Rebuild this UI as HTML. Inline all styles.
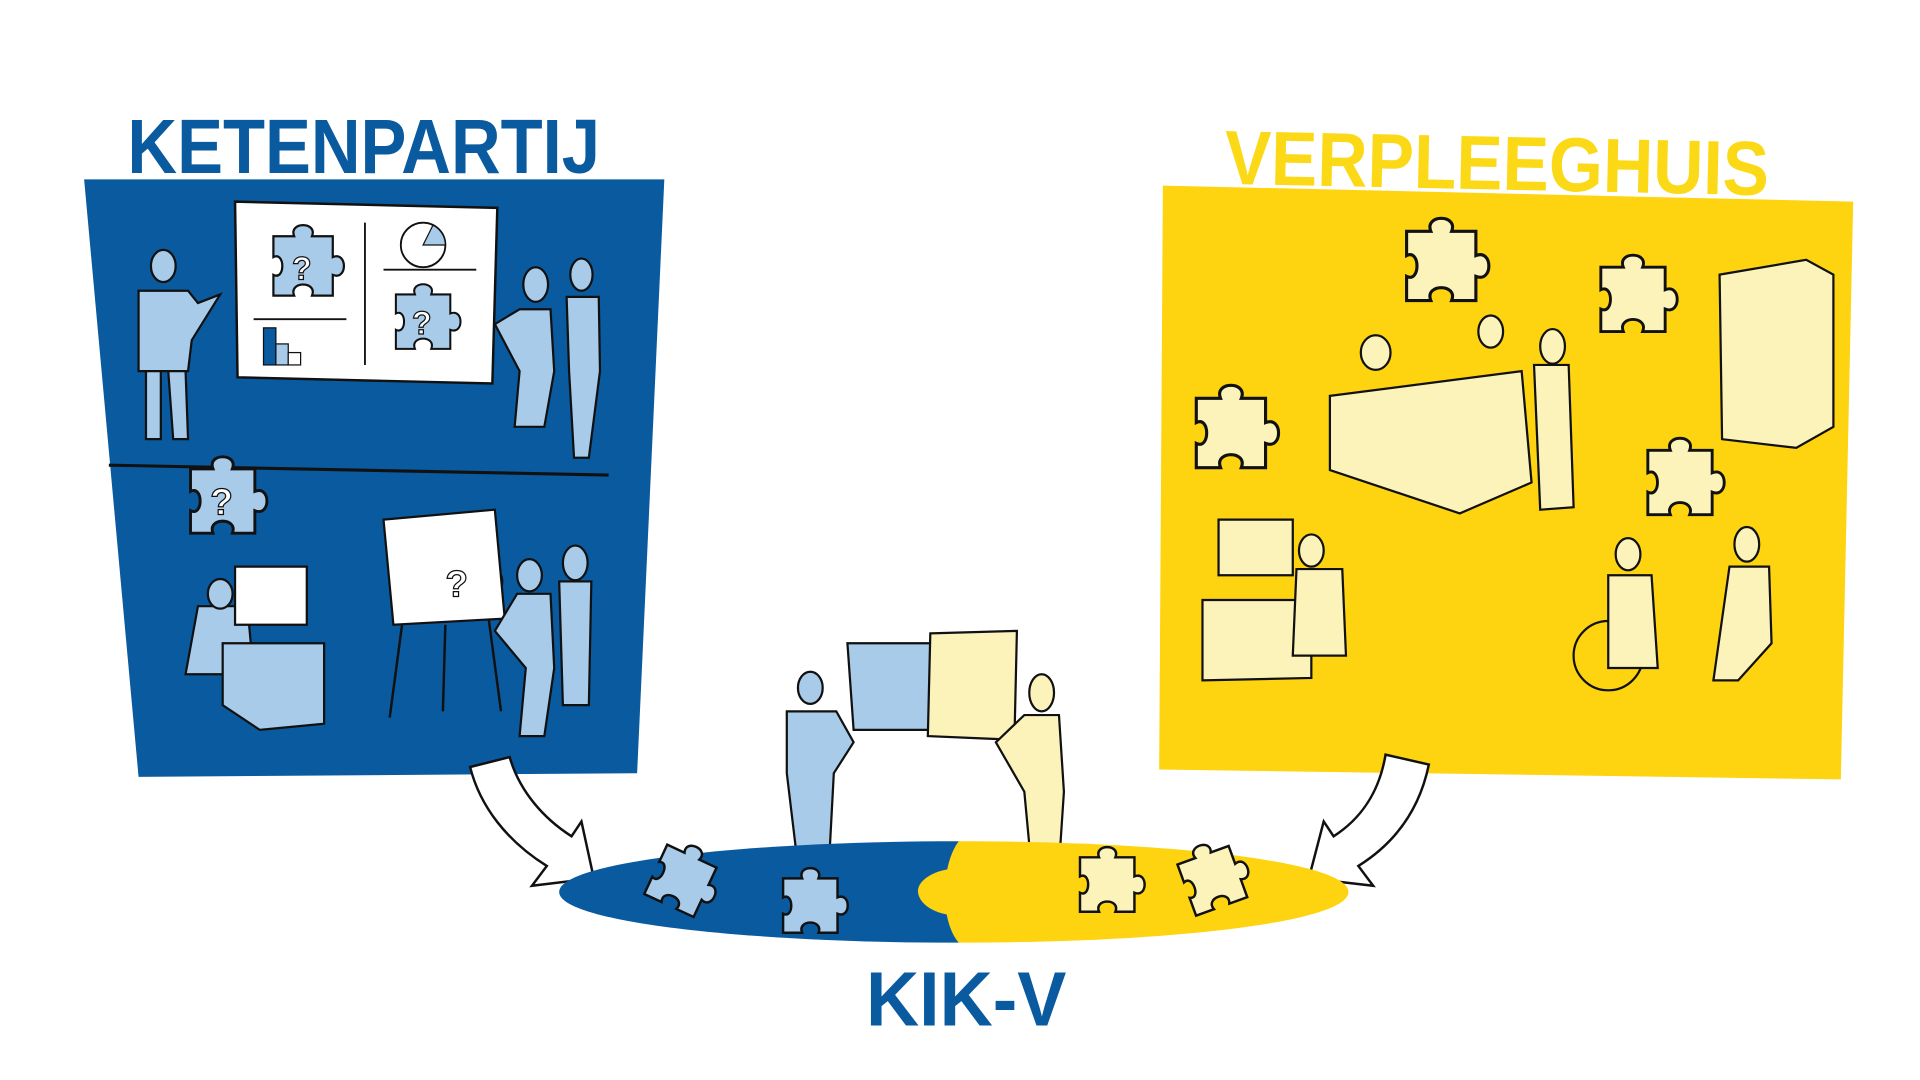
<!DOCTYPE html>
<html><head><meta charset="utf-8"><style>
html,body{margin:0;padding:0;background:#fff;width:1920px;height:1080px;overflow:hidden}
svg{display:block}
text{font-family:"Liberation Sans",sans-serif;font-weight:bold}
</style></head><body>
<svg width="1920" height="1080" viewBox="0 0 1552 873" preserveAspectRatio="none" xmlns="http://www.w3.org/2000/svg">
<defs>
<path id="pz" d="M-20,-20 L-6,-20 C-10,-30 10,-30 6,-20 L20,-20 L20,-6 C30,-10 30,10 20,6 L20,20 L6,20 C10,10 -10,10 -6,20 L-20,20 L-20,6 C-12,10 -12,-10 -20,-6 Z"/>
</defs>
<!-- titles -->
<text x="103" y="140" font-size="62" fill="#0a5aa0" textLength="382" lengthAdjust="spacingAndGlyphs">KETENPARTIJ</text>
<text x="990" y="153" font-size="62" fill="#fcd917" textLength="440" lengthAdjust="spacingAndGlyphs" transform="rotate(1.2 1200 130)">VERPLEEGHUIS</text>
<!-- blue panel -->
<polygon points="68,145 537,145 515,625 112,628" fill="#0a5aa0"/>
<line x1="88" y1="376" x2="492" y2="384" stroke="#111" stroke-width="2.5"/>
<!-- whiteboard -->
<polygon points="190,163 402,168 398,310 192,305" fill="#fff" stroke="#111" stroke-width="2"/>
<line x1="295" y1="180" x2="295" y2="295" stroke="#111" stroke-width="1.5"/>
<line x1="205" y1="258" x2="280" y2="258" stroke="#111" stroke-width="1.5"/>
<line x1="310" y1="218" x2="385" y2="218" stroke="#111" stroke-width="1.5"/>
<use href="#pz" transform="translate(245,215) scale(1.2)" fill="#a7cbe8" stroke="#111" stroke-width="1.5"/>
<use href="#pz" transform="translate(342,260) scale(1.1)" fill="#a7cbe8" stroke="#111" stroke-width="1.5"/>
<text x="236" y="226" font-size="26" fill="#fff" stroke="#111" stroke-width="1">?</text>
<text x="333" y="270" font-size="26" fill="#fff" stroke="#111" stroke-width="1">?</text>
<circle cx="342" cy="198" r="18" fill="#fff" stroke="#111" stroke-width="1.5"/>
<path d="M342,198 L360,198 A18,18 0 0 0 350,182 Z" fill="#a7cbe8" stroke="#111"/>
<rect x="213" y="265" width="10" height="30" fill="#0a5aa0" stroke="#111"/>
<rect x="223" y="278" width="10" height="17" fill="#a7cbe8" stroke="#111"/>
<rect x="233" y="285" width="10" height="10" fill="#fff" stroke="#111"/>
<!-- people blue -->
<g fill="#a7cbe8" stroke="#111" stroke-width="1.8">
<ellipse cx="132" cy="215" rx="10" ry="13"/><path d="M112,235 L152,235 L160,245 L178,238 L155,275 L152,300 L112,300 Z"/><path d="M118,300 L130,300 L130,355 L118,355 Z M136,300 L150,300 L152,355 L140,355 Z"/>
<ellipse cx="433" cy="230" rx="10" ry="14"/><path d="M420,250 L445,250 L448,300 L440,345 L416,345 L420,300 L400,262 Z"/>
<ellipse cx="470" cy="222" rx="9" ry="13"/><path d="M458,240 L484,240 L485,300 L476,370 L464,370 L460,300 Z"/>
<use href="#pz" transform="translate(180,405) scale(1.3)"/>
<use href="#pz" transform="translate(370,470) scale(1.3)"/>
<path d="M310,420 L400,412 L408,500 L318,505 Z" fill="#fff"/>
<path d="M160,490 L200,490 L205,545 L150,545 Z"/><ellipse cx="178" cy="480" rx="10" ry="12"/>
<path d="M190,458 L248,458 L248,505 L190,505 Z" fill="#fff"/>
<path d="M180,520 L262,520 L262,585 L210,590 L180,570 Z"/>
<ellipse cx="428" cy="465" rx="10" ry="13"/><path d="M418,480 L445,480 L448,540 L440,595 L420,595 L425,540 L400,510 Z"/>
<ellipse cx="465" cy="455" rx="10" ry="14"/><path d="M452,470 L478,470 L476,570 L455,570 Z"/>
</g>
<g fill="none" stroke="#111" stroke-width="2"><line x1="325" y1="505" x2="315" y2="580"/><line x1="395" y1="500" x2="405" y2="575"/><line x1="360" y1="505" x2="358" y2="575"/></g>
<text x="170" y="416" font-size="30" fill="#fff" stroke="#111" stroke-width="1">?</text>
<text x="360" y="482" font-size="30" fill="#fff" stroke="#111" stroke-width="1">?</text>
<!-- yellow panel -->
<polygon points="940,150 1498,163 1488,630 937,622" fill="#fdd40f"/>
<g fill="#fcf3bb" stroke="#111" stroke-width="1.8">
<use href="#pz" transform="translate(1165,215) scale(1.4)"/>
<use href="#pz" transform="translate(1320,242) scale(1.3)"/>
<use href="#pz" transform="translate(995,350) scale(1.4)"/>
<use href="#pz" transform="translate(1358,390) scale(1.3)"/>
<path d="M1390,222 L1460,210 L1482,222 L1482,345 L1452,362 L1392,355 Z"/>
<path d="M1075,320 L1230,300 L1238,390 L1180,415 L1075,380 Z"/>
<ellipse cx="1112" cy="285" rx="12" ry="14"/><ellipse cx="1205" cy="268" rx="10" ry="13"/><ellipse cx="1255" cy="280" rx="10" ry="14"/>
<path d="M1240,295 L1268,295 L1272,410 L1245,412 Z"/>
<path d="M985,420 L1045,420 L1045,465 L985,465 Z"/>
<path d="M972,485 L1060,485 L1060,548 L972,550 Z"/>
<ellipse cx="1060" cy="445" rx="10" ry="13"/><path d="M1048,460 L1085,460 L1088,530 L1045,530 Z"/>
<circle cx="1300" cy="530" r="28" fill="none"/>
<ellipse cx="1316" cy="448" rx="10" ry="13"/><path d="M1300,465 L1335,465 L1340,540 L1300,540 Z"/>
<ellipse cx="1412" cy="440" rx="10" ry="14"/><path d="M1398,458 L1430,458 L1432,520 L1405,550 L1385,550 Z"/>
<path d="M685,520 L760,520 L762,590 L690,590 Z" fill="#a7cbe8"/>
<path d="M752,512 L822,510 L820,598 L750,595 Z"/>
<ellipse cx="655" cy="556" rx="10" ry="13" fill="#a7cbe8"/>
<path d="M636,575 L676,575 L690,600 L674,625 L670,700 L645,700 L636,625 Z" fill="#a7cbe8"/>
<ellipse cx="842" cy="560" rx="10" ry="15"/>
<path d="M828,578 L856,578 L860,640 L855,715 L835,715 L828,640 L805,600 Z"/>
</g>
<!-- arrows -->
<path d="M380,620 L412,612 C420,640 440,662 462,676 L470,664 L480,710 L430,716 L442,700 C410,680 388,652 380,620 Z" fill="#fff" stroke="#111" stroke-width="2"/>
<path d="M1155,618 L1120,610 C1115,640 1100,662 1078,676 L1070,664 L1058,710 L1110,716 L1098,700 C1130,680 1148,652 1155,618 Z" fill="#fff" stroke="#111" stroke-width="2"/>
<!-- ellipse -->
<path d="M775,680 L775,762 C600,762 452,745 452,721 C452,697 600,680 775,680 Z" fill="#0a5aa0"/>
<path d="M775,680 C950,680 1090,697 1090,721 C1090,745 950,762 775,762 C760,745 760,700 775,680 Z" fill="#fdd40f"/>
<path d="M775,702 C755,702 742,712 742,720 C742,730 755,740 775,740 Z" fill="#fdd40f"/>
<g stroke="#111" stroke-width="1.8">
<use href="#pz" transform="translate(550,712) rotate(25) scale(1.1)" fill="#a7cbe8"/>
<use href="#pz" transform="translate(655,732) scale(1.1)" fill="#a7cbe8"/>
<use href="#pz" transform="translate(895,715) scale(1.1)" fill="#fcf3bb"/>
<use href="#pz" transform="translate(980,712) rotate(-20) scale(1.1)" fill="#fcf3bb"/>
</g>
<text x="700" y="829" font-size="62" fill="#0a5aa0" textLength="162" lengthAdjust="spacingAndGlyphs">KIK-V</text>
</svg>
</body></html>
